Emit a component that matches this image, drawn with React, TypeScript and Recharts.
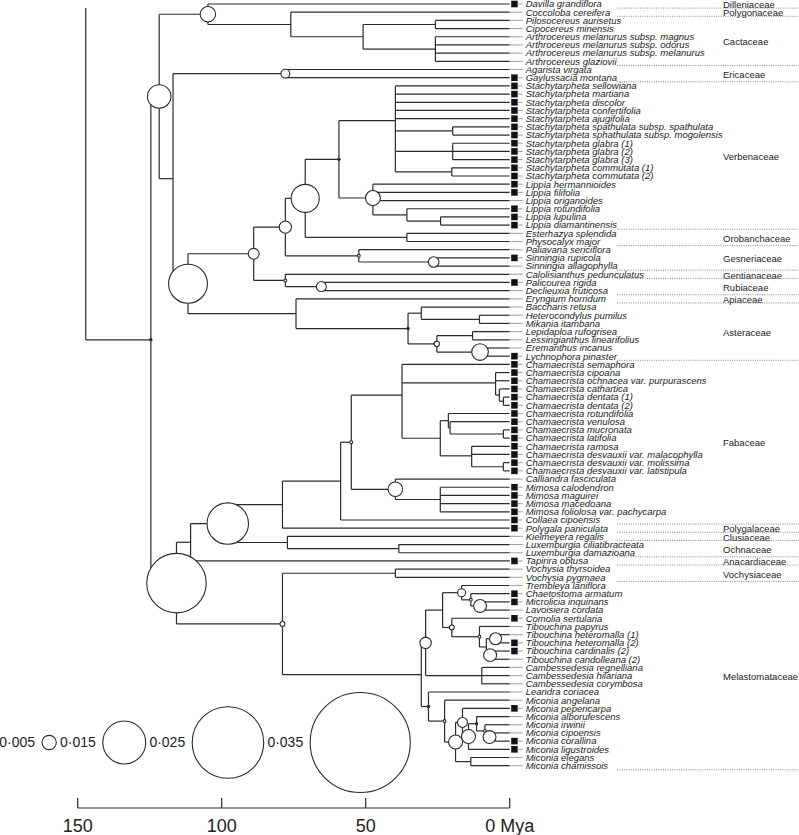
import React from 'react';
import { ComposedChart, XAxis, YAxis, Scatter, ReferenceLine } from 'recharts';

const FONT = '"Liberation Sans", Arial, Helvetica, sans-serif';
const INK = '#2b2b2b';
const W = 799;
const H = 835;

const tipNames = [
  'Davilla grandiflora', 'Coccoloba cereifera', 'Pilosocereus aurisetus', 'Cipocereus minensis',
  'Arthrocereus melanurus subsp. magnus', 'Arthrocereus melanurus subsp. odorus',
  'Arthrocereus melanurus subsp. melanurus', 'Arthrocereus glaziovii', 'Agarista virgata',
  'Gaylussacia montana', 'Stachytarpheta sellowiana', 'Stachytarpheta martiana',
  'Stachytarpheta discolor', 'Stachytarpheta confertifolia', 'Stachytarpheta ajugifolia',
  'Stachytarpheta spathulata subsp. spathulata', 'Stachytarpheta sphathulata subsp. mogolensis',
  'Stachytarpheta glabra (1)', 'Stachytarpheta glabra (2)', 'Stachytarpheta glabra (3)',
  'Stachytarpheta commutata (1)', 'Stachytarpheta commutata (2)', 'Lippia hermannioides',
  'Lippia filifolia', 'Lippia origanoides', 'Lippia rotundifolia', 'Lippia lupulina',
  'Lippia diamantinensis', 'Esterhazya splendida', 'Physocalyx major', 'Paliavana sericiflora',
  'Sinningia rupicola', 'Sinningia allagophylla', 'Calolisianthus pedunculatus', 'Palicourea rigida',
  'Declieuxia fruticosa', 'Eryngium horridum', 'Baccharis retusa', 'Heterocondylus pumilus',
  'Mikania itambana', 'Lepidaploa rufogrisea', 'Lessingianthus linearifolius', 'Eremanthus incanus',
  'Lychnophora pinaster', 'Chamaecrista semaphora', 'Chamaecrista cipoana',
  'Chamaecrista ochnacea var. purpurascens', 'Chamaecrista cathartica', 'Chamaecrista dentata (1)',
  'Chamaecrista dentata (2)', 'Chamaecrista rotundifolia', 'Chamaecrista venulosa',
  'Chamaecrista mucronata', 'Chamaecrista latifolia', 'Chamaecrista ramosa',
  'Chamaecrista desvauxii var. malacophylla', 'Chamaecrista desvauxii var. molissima',
  'Chamaecrista desvauxii var. latistipula', 'Calliandra fasciculata', 'Mimosa calodendron',
  'Mimosa maguirei', 'Mimosa macedoana', 'Mimosa foliolosa var. pachycarpa', 'Collaea cipoensis',
  'Polygala paniculata', 'Kielmeyera regalis', 'Luxemburgia ciliatibracteata', 'Luxemburgia damazioana',
  'Tapirira obtusa', 'Vochysia thyrsoidea', 'Vochysia pygmaea', 'Trembleya laniflora',
  'Chaetostoma armatum', 'Microlicia inquinans', 'Lavoisiera cordata', 'Comolia sertularia',
  'Tibouchina papyrus', 'Tibouchina heteromalla (1)', 'Tibouchina heteromalla (2)',
  'Tibouchina cardinalis (2)', 'Tibouchina candolleana (2)', 'Cambessedesia regnelliana',
  'Cambessedesia hilariana', 'Cambessedesia corymbosa', 'Leandra coriacea', 'Miconia angelana',
  'Miconia pepericarpa', 'Miconia alborufescens', 'Miconia irwinii', 'Miconia cipoensis',
  'Miconia corallina', 'Miconia ligustroides', 'Miconia elegans', 'Miconia chamissois',
];

const tipMarked = [
  1, 0, 0, 0, 0, 0, 0, 0, 0, 1,
  1, 1, 1, 1, 1, 1, 1, 1, 1, 1,
  1, 1, 1, 1, 0, 1, 1, 1, 0, 0,
  0, 1, 0, 0, 1, 0, 0, 0, 0, 0,
  0, 0, 0, 1, 1, 1, 1, 1, 1, 1,
  1, 1, 1, 1, 1, 1, 1, 1, 0, 1,
  1, 1, 1, 1, 1, 0, 0, 0, 1, 0,
  0, 0, 1, 1, 0, 1, 0, 0, 1, 1,
  0, 0, 0, 0, 0, 0, 1, 0, 0, 0,
  1, 1, 0, 0,
];

const familyNames = ['Dilleniaceae', 'Polygonaceae', 'Cactaceae', 'Ericaceae', 'Verbenaceae', 'Orobanchaceae',
  'Gesneriaceae', 'Gentianaceae', 'Rubiaceae', 'Apiaceae', 'Asteraceae', 'Fabaceae', 'Polygalaceae',
  'Clusiaceae', 'Ochnaceae', 'Anacardiaceae', 'Vochysiaceae', 'Melastomataceae'];
const familyFirstTip = [1, 2, 3, 9, 11, 29, 31, 34, 35, 37, 38, 45, 65, 66, 67, 69, 70, 72];
const familyLastTip = [1, 2, 8, 10, 28, 30, 33, 34, 36, 37, 44, 64, 65, 66, 68, 69, 71, 94];

const nodeIds = ['root', 'A', 'N1', 'N1a', 'Caryo', 'Cact', 'PC', 'Arth', 'N3', 'Eric', 'N4', 'N5', 'N7', 'VO',
  'Verb', 'Stachy', 'Sp', 'Gl', 'Co', 'Lip', 'LR', 'LL', 'Orob', 'Gesn', 'Sinn', 'N8', 'Rub', 'N6', 'Aster',
  'AsA', 'Eup', 'Vern', 'LL2', 'EL', 'N2', 'N9', 'RC', 'Fab', 'Fabc', 'X', 'Cham', 'Y', 'Z', 'D', 'LC', 'R1',
  'R2', 'ML', 'R3', 'MLat', 'Mim', 'MimN', 'Malp', 'Och', 'N10', 'Voch', 'Mel', 'M8', 'M0', 'M1', 'M2', 'M3',
  'M4', 'M5', 'M6', 'Het', 'M7', 'Camb', 'NM', 'C6', 'C7', 'C5', 'C4', 'C3', 'C2', 'C1', 'EC'];

const nodeAges = [147.2, 124.6, 121.7, 104.8, 76.0, 50.9, 25.8, 25.8, 116.9, 77.9, 111.7, 88.9, 77.9, 71.0,
  59.3, 39.7, 19.8, 19.8, 20.1, 47.5, 35.7, 24.0, 35.7, 52.4, 26.4, 77.9, 65.4, 74.2, 35.3,
  30.7, 10.5, 25.3, 12.9, 10.3, 115.7, 110.8, 97.9, 78.9, 58.7, 55.0, 37.4, 4.9, 3.6, 2.2, 24.1, 21.3,
  20.7, 2.2, 13.2, 2.2, 39.7, 24.1, 77.2, 38.5, 78.9, 39.7, 30.7, 29.2, 23.3, 16.7, 13.5, 10.3,
  20.1, 10.5, 8.1, 4.9, 6.8, 9.7, 28.2, 22.6, 18.8, 16.4, 14.3, 11.5, 8.6, 7.0, 13.5];

const nodeChildren = ['A', 'N1 N2', 'N1a N3', 't1 Caryo', 't2 Cact', 'PC Arth', 't3 t4', 't5 t6 t7 t8', 'Eric N4',
  't9 t10', 'N5 N6', 'N7 N8', 'VO Gesn', 'Verb Orob', 'Stachy Lip', 't11 t12 t13 t14 t15 Sp Gl Co', 't16 t17',
  't18 t19 t20', 't21 t22', 't23 t24 t25 LR', 't26 LL', 't27 t28', 't29 t30', 't31 Sinn', 't32 t33', 't34 Rub',
  't35 t36', 't37 Aster', 'AsA Vern', 't38 Eup', 't39 t40', 'LL2 EL', 't41 t42', 't43 t44', 'N9 N10', 'RC t69',
  'Fab Malp', 'Fabc t65', 'X t64', 'Cham Mim', 't45 Y LC', 't46 t47 Z', 't48 D', 't49 t50', 'R1 R3', 't51 R2',
  't52 ML', 't53 t54', 't55 t56 MLat', 't57 t58', 't59 MimN', 't60 t61 t62 t63', 't66 Och', 't67 t68',
  'Voch Mel', 't70 t71', 'M8 NM', 'M0 Camb', 'M1 M4', 't72 M2', 't73 M3', 't74 t75', 't76 M5', 't77 M6',
  'Het M7', 't78 t79', 't80 t81', 't82 t83 t84', 't85 C6', 't86 C7', 'C5 EC', 't87 C4', 'C3 t92', 't88 C2',
  't89 C1', 't90 t91', 't93 t94'];

// rate value shown by node circle; -1 = filled dot, 0 = no symbol
const nodeRates = [0, -1, 0.0082, 0.0054, 0, 0, 0, 0, 0, 0.0031, 0.0136, 0.0038, 0.0043, 0.0098,
  -1, 0, 0, 0, 0, 0.0052, 0, 0, 0, 0.001, 0.0037, 0.001, 0.0035, 0, -1,
  0, 0, 0.0018, 0, 0.0058, 0.0208, 0, 0.0145, 0, 0, 0.001, 0, 0, 0, 0, 0, 0,
  0, 0, 0, 0, 0.0051, 0, 0, 0, 0.0017, 0, 0, 0.004, 0, 0.0028, 0.001, 0.0045,
  0.0017, 0.001, 0, 0.0042, 0.0045, 0, -1, 0.001, 0.0049, 0.0035, 0.0049, -1, 0.001, 0.0045, 0];

const rootStemTopRow = 1.5;
const ageTicks = [150, 100, 50, 0];
const ageTickLabels = ['150', '100', '50', '0 Mya'];
const legendRates = [0.005, 0.015, 0.025, 0.035];
const legendLabels = ['0·005', '0·015', '0·025', '0·035'];

const RATE_PX = 1430;

// ---- derived layout tables ----
const rowOf: Record<string, number> = {};
const ageOf: Record<string, number> = {};
tipNames.forEach((_, i) => { rowOf['t' + (i + 1)] = i + 1; ageOf['t' + (i + 1)] = 0; });
nodeIds.forEach((id, i) => { ageOf[id] = nodeAges[i]; });
const kidsOf = (id: string) => nodeChildren[nodeIds.indexOf(id)].split(' ');
function rowFor(id: string): number {
  if (rowOf[id] !== undefined) return rowOf[id];
  const ks = kidsOf(id);
  const r = ks.reduce((s, k) => s + rowFor(k), 0) / ks.length;
  rowOf[id] = r;
  return r;
}
nodeIds.forEach((id) => rowFor(id));

type Seg = { x1: number; y1: number; x2: number; y2: number };
const segments: Seg[] = [];
nodeIds.forEach((id, i) => {
  const ks = kidsOf(id);
  const rows = ks.map((k) => rowOf[k]);
  const top = id === 'root' ? rootStemTopRow : Math.min(...rows);
  const bottom = Math.max(...rows);
  if (bottom > top) segments.push({ x1: nodeAges[i], y1: top, x2: nodeAges[i], y2: bottom });
  ks.forEach((k) => segments.push({ x1: nodeAges[i], y1: rowOf[k], x2: ageOf[k], y2: rowOf[k] }));
});

const markData = nodeIds
  .map((id, i) => ({ id, age: nodeAges[i], row: rowOf[id], rate: nodeRates[i] }))
  .filter((d) => d.rate !== 0);

const tipRows = tipNames.map((_, i) => i + 1);
const famRows = familyNames.map((_, i) => (familyFirstTip[i] + familyLastTip[i]) / 2);
const sepRows = familyLastTip.map((t) => t + 0.5);

const NodeMark = (p: any) => {
  const { cx, cy, payload } = p;
  if (payload.rate < 0) return <circle cx={cx} cy={cy} r={1.7} fill={INK} />;
  return <circle cx={cx} cy={cy} r={payload.rate * RATE_PX} fill="#fff" stroke={INK} strokeWidth={1.1} />;
};

const TipTick = (p: any) => {
  const { x, y, payload } = p;
  const i = Math.round(payload.value) - 1;
  const marked = tipMarked[i] === 1;
  return (
    <g>
      {marked ? <rect x={x + 1.5} y={y - 3.3} width={6.5} height={6.6} fill="#111" /> : null}
      <line x1={marked ? x + 8 : x} x2={x + 13} y1={y} y2={y} stroke="#a8a8a8" strokeWidth={1.1} />
      <text x={x + 16} y={y} dy="0.35em" fontStyle="italic" fontSize={9.5} fill="#222" fontFamily={FONT}>
        {tipNames[i]}
      </text>
    </g>
  );
};

const FamTick = (p: any) => {
  const { x, y, index } = p;
  return (
    <text x={x} y={y} dy="0.45em" fontSize={9.5} fill="#222" fontFamily={FONT}>
      {familyNames[index]}
    </text>
  );
};

const SepTick = (p: any) => {
  const { x, y } = p;
  return <line x1={x} x2={W} y1={y} y2={y} stroke="#777" strokeWidth={0.9} strokeDasharray="1 1.3" />;
};

const AgeTick = (p: any) => {
  const { x, y, index } = p;
  return (
    <g>
      <line x1={x} x2={x} y1={y} y2={y - 10} stroke={INK} strokeWidth={1.2} />
      <text x={x} y={y + 24} textAnchor="middle" fontSize={18} fill="#222" fontFamily={FONT}>
        {ageTickLabels[index]}
      </text>
    </g>
  );
};

const RateLegend = () => {
  let cursor = 0;
  const items = legendRates.map((v, i) => {
    const r = v * RATE_PX;
    const labelEnd = cursor + 35;
    const cx = labelEnd + 7 + r;
    cursor = cx + r + 4.5;
    return (
      <g key={i}>
        <text x={labelEnd} y={742.5} dy="0.35em" textAnchor="end" fontSize={14} fill="#222" fontFamily={FONT}>
          {legendLabels[i]}
        </text>
        <circle cx={cx} cy={742.5} r={r} fill="none" stroke={INK} strokeWidth={1.1} />
      </g>
    );
  });
  return (
    <svg width={W} height={H} style={{ position: 'absolute', left: 0, top: 0, pointerEvents: 'none' }}>
      {items}
    </svg>
  );
};

const yCommon = {
  orientation: 'right' as const,
  type: 'number' as const,
  domain: [1, 94] as [number, number],
  reversed: true,
  padding: { top: 0, bottom: 42.3 },
  interval: 0 as const,
  axisLine: false,
  tickLine: false,
  tickSize: 0,
  tickMargin: 0,
  allowDataOverflow: true,
};

export default function App() {
  return (
    <div style={{ position: 'absolute', left: 0, top: 0, width: W, height: H, background: '#fff' }}>
      <ComposedChart width={W} height={H} margin={{ top: 4, right: 0, bottom: 0, left: 77.7 }} data={markData}>
        <XAxis
          xAxisId="age"
          type="number"
          dataKey="age"
          domain={[0, 150]}
          reversed
          ticks={ageTicks}
          interval={0}
          height={27}
          tickLine={false}
          tickSize={0}
          tickMargin={0}
          axisLine={{ stroke: INK, strokeWidth: 1.2 }}
          tick={(p: any) => <AgeTick {...p} />}
          allowDataOverflow
        />
        <YAxis yAxisId="c_fam" width={76} ticks={famRows} tick={(p: any) => <FamTick {...p} />} {...yCommon} />
        <YAxis yAxisId="b_sep" width={106} ticks={sepRows} tick={(p: any) => <SepTick {...p} />} {...yCommon} />
        <YAxis yAxisId="a_tips" dataKey="row" width={107.3} ticks={tipRows} tick={(p: any) => <TipTick {...p} />} {...yCommon} />
        {segments.map((s, i) => (
          <ReferenceLine
            key={i}
            xAxisId="age"
            yAxisId="a_tips"
            segment={[{ x: s.x1, y: s.y1 }, { x: s.x2, y: s.y2 }]}
            stroke={INK}
            strokeWidth={1.2}
            ifOverflow="visible"
          />
        ))}
        <Scatter xAxisId="age" yAxisId="a_tips" data={markData} dataKey="row" shape={NodeMark} isAnimationActive={false} />
      </ComposedChart>
      <RateLegend />
    </div>
  );
}
